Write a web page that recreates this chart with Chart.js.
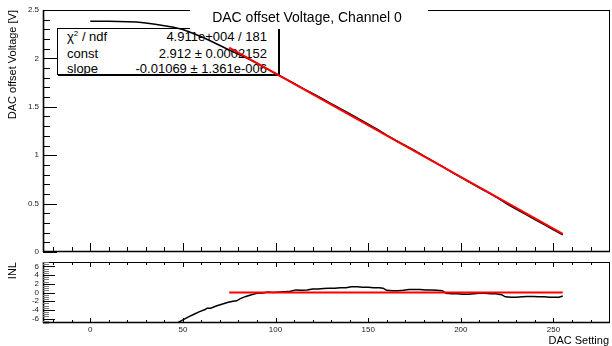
<!DOCTYPE html>
<html>
<head>
<meta charset="utf-8">
<script src="https://cdn.jsdelivr.net/npm/chart.js@4.4.1/dist/chart.umd.min.js"></script>
<style>
  html, body { margin: 0; padding: 0; background: #fff; }
  #page { position: relative; width: 612px; height: 346px; overflow: hidden;
          font-family: "Liberation Sans", Arial, Helvetica, sans-serif; color: #000; }
  canvas { position: absolute; left: 0; z-index: 1; }
  #cVolt { top: 0; }
  #cInl { top: 253px; }
  /* fit statistics pave (sits under the canvas so the graph line crosses it) */
  .stats { position: absolute; left: 57px; top: 28px; width: 220px; height: 45px; z-index: 0;
           border: 1px solid #000; box-shadow: 1px 1px 0 #000; background: #fff;
           font-size: 13px; line-height: 15px; }
  .stats .row { display: flex; justify-content: space-between; padding: 0 11px 0 9px; }
  .stats .sq { font-size: 8px; position: relative; top: -5px; }
  .titlebox { position: absolute; left: 190px; top: 0; width: 238px; height: 29px; background: #fff; z-index: 2; }
  .title { position: absolute; left: 0; top: 9px; width: 614px; text-align: center;
           font-size: 14px; line-height: 16px; z-index: 3; }
  .ytitle { position: absolute; left: 6px; width: 12px; font-size: 11px; line-height: 12px;
            writing-mode: vertical-rl; transform: rotate(180deg); white-space: nowrap; z-index: 3; }
  .xtitle { position: absolute; right: 3px; top: 334px; font-size: 11px; line-height: 12px; z-index: 3; }
</style>
</head>
<body>
<div id="page">
  <div class="stats">
    <div class="row"><span>χ<span class="sq">2</span> / ndf</span><span>4.911e+004 / 181</span></div>
    <div class="row"><span>const</span><span>2.912 ± 0.0002152</span></div>
    <div class="row"><span>slope</span><span>-0.01069 ± 1.361e-006</span></div>
  </div>
  <canvas id="cVolt" width="612" height="261"></canvas>
  <canvas id="cInl" width="612" height="93"></canvas>
  <div class="titlebox"></div>
  <div class="title">DAC offset Voltage, Channel 0</div>
  <div class="ytitle" style="top:10px">DAC offset Voltage [V]</div>
  <div class="ytitle" style="top:262px">INL</div>
  <div class="xtitle">DAC Setting</div>
</div>
<script>
(function () {
  'use strict';

  /* ── measured offset voltage vs DAC setting ── */
  var dacSetting = [0, 5, 10, 15, 20, 25, 30, 35, 40, 45, 50, 55, 60, 65, 70, 75, 80, 85, 90, 95,
    100, 105, 110, 115, 120, 125, 130, 135, 140, 145, 150, 155, 160, 165, 170, 175, 180, 185, 190, 195,
    200, 205, 210, 215, 220, 225, 230, 235, 240, 245, 250, 255];
  var offsetVoltage = [2.383, 2.383, 2.383, 2.382, 2.379, 2.375, 2.365, 2.352, 2.338, 2.322, 2.298, 2.262,
    2.224, 2.180, 2.133, 2.087, 2.041, 1.997, 1.949, 1.896, 1.844, 1.793, 1.742, 1.688, 1.638, 1.586,
    1.533, 1.481, 1.429, 1.376, 1.321, 1.267, 1.207, 1.152, 1.101, 1.049, 0.994, 0.939, 0.885, 0.825,
    0.771, 0.716, 0.664, 0.612, 0.556, 0.496, 0.441, 0.389, 0.336, 0.282, 0.228, 0.177];

  /* ── linear fit (pol1) over the linear region ── */
  var fitConst = 2.912;
  var fitSlope = -0.01069;
  var fitRange = [75, 255];

  /* ── INL: residual of the data w.r.t. the fit ── */
  var inlDac = [45, 47, 50, 53, 56, 59, 62, 63, 65, 68, 71, 74, 77, 79, 81, 84, 87, 90, 93, 96,
    99, 102, 105, 108, 111, 114, 117, 120, 123, 126, 129, 132, 135, 138, 141, 144, 147, 150, 153, 156,
    158, 160, 163, 166, 169, 172, 175, 178, 181, 184, 187, 190, 192, 195, 198, 201, 204, 207, 210, 213,
    216, 219, 222, 224, 227, 230, 233, 236, 239, 242, 245, 248, 251, 253, 255];
  var inlValue = [-7.6, -7.0, -6.3, -5.6, -5.0, -4.4, -3.9, -3.6, -3.6, -3.1, -2.7, -2.3, -2.0, -1.9,
    -1.4, -0.9, -0.5, -0.2, -0.1, 0.1, 0.0, 0.1, 0.2, 0.3, 0.6, 0.5, 0.6, 0.8, 0.8, 0.9,
    1.0, 1.0, 1.1, 1.1, 1.3, 1.3, 1.2, 1.2, 1.1, 1.1, 1.0, 0.5, 0.4, 0.4, 0.5, 0.7, 0.7, 0.7,
    0.6, 0.6, 0.5, 0.4, -0.2, -0.3, -0.3, -0.4, -0.4, -0.3, -0.2, -0.2, -0.3, -0.3, -0.5, -1.0,
    -1.1, -1.1, -1.0, -0.9, -0.9, -1.0, -1.0, -1.1, -1.1, -1.1, -0.8];

  /* ── axes ── */
  var dacRange = [-25.5, 280.5];
  var dacTicks = [0, 50, 100, 150, 200, 250];
  var voltRange = [0, 2.5];
  var voltTicks = [0, 0.5, 1, 1.5, 2, 2.5];
  var inlRange = [-7, 7];
  var inlTicks = [-6, -4, -2, 0, 2, 4, 6];

  Chart.defaults.font.family = '"Liberation Sans", Arial, Helvetica, sans-serif';

  var pts = function (xs, ys) { return xs.map(function (x, i) { return { x: x, y: ys[i] }; }); };
  var fitLine = fitRange.map(function (x) { return { x: x, y: fitConst + fitSlope * x }; });
  var inlZero = fitRange.map(function (x) { return { x: x, y: 0 }; });

  /* ── ROOT-like frame with inward ticks (major + minor) ── */
  function steps(min, max, step) {
    var out = [];
    for (var i = Math.ceil(min / step - 1e-9); i * step <= max + 1e-9; i++) out.push(i * step);
    return out;
  }
  function onGrid(v, step) { var r = v / step; return Math.abs(r - Math.round(r)) < 1e-6; }
  function seg(ctx, x1, y1, x2, y2) { ctx.beginPath(); ctx.moveTo(x1, y1); ctx.lineTo(x2, y2); ctx.stroke(); }

  var rootAxes = {
    id: 'rootAxes',
    afterDraw: function (chart, args, o) {
      var a = chart.chartArea, ctx = chart.ctx, sx = chart.scales.x, sy = chart.scales.y;
      ctx.save();
      ctx.strokeStyle = '#000'; ctx.lineWidth = 1;
      ctx.strokeRect(a.left + .5, a.top + .5, a.right - a.left - 1, a.bottom - a.top - 1);
      ctx.lineWidth = 1.6;
      seg(ctx, a.left + .5, a.top, a.left + .5, a.bottom);
      seg(ctx, a.left, a.bottom - .5, a.right, a.bottom - .5);

      // x ticks
      ctx.lineWidth = 1;
      steps(sx.min, sx.max, o.xMinor).forEach(function (v) {
        var px = Math.round(sx.getPixelForValue(v)) + .5;
        var len = onGrid(v, o.xMajor) ? o.xMajorLen : o.xMinorLen;
        seg(ctx, px, a.bottom, px, a.bottom - len);
        if (o.xTop) seg(ctx, px, a.top, px, a.top + len);
      });
      // y ticks
      steps(sy.min, sy.max, o.yMinor).forEach(function (v) {
        var py = Math.round(sy.getPixelForValue(v)) + .5;
        var major = onGrid(v, o.yMajor);
        ctx.strokeStyle = major ? '#000' : o.yMinorColor;
        seg(ctx, a.left, py, a.left + (major ? o.yMajorLen : o.yMinorLen), py);
      });
      ctx.restore();
    }
  };

  function fixedTicks(list) {
    return function (axis) { axis.ticks = list.map(function (v) { return { value: v }; }); };
  }
  var plain = function (v) { return String(v); };

  function options(yRange, yTicks, showX, padding, axes) {
    return {
      responsive: false, animation: false, events: [],
      layout: { padding: padding },
      plugins: { legend: { display: false }, tooltip: { enabled: false }, title: { display: false }, rootAxes: axes },
      elements: { point: { radius: 0 }, line: { tension: 0 } },
      scales: {
        x: {
          type: 'linear', min: dacRange[0], max: dacRange[1], display: showX,
          afterBuildTicks: fixedTicks(dacTicks),
          afterFit: function (s) { s.height = showX ? 23 : 0; },
          grid: { display: false, drawTicks: false }, border: { display: false },
          ticks: { color: '#222', padding: 2, maxRotation: 0, autoSkip: false, font: { size: 8 }, callback: plain }
        },
        y: {
          type: 'linear', min: yRange[0], max: yRange[1],
          afterBuildTicks: fixedTicks(yTicks),
          afterFit: function (s) { s.width = 43; },
          grid: { display: false, drawTicks: false }, border: { display: false },
          ticks: { color: '#222', padding: 4, autoSkip: false, font: { size: 8 }, callback: plain }
        }
      }
    };
  }

  // upper pad: voltage + fit
  new Chart(document.getElementById('cVolt'), {
    type: 'line',
    data: {
      datasets: [
        { data: fitLine, borderColor: '#ff0000', borderWidth: 2, order: 0 },
        { data: pts(dacSetting, offsetVoltage), borderColor: '#000', borderWidth: 1.5, order: 1 }
      ]
    },
    options: options(voltRange, voltTicks, false, { top: 10, right: 2, bottom: 9, left: 0 },
      { xMajor: 50, xMinor: 10, xMajorLen: 9, xMinorLen: 5, xTop: false,
        yMajor: 0.5, yMinor: 0.1, yMajorLen: 14, yMinorLen: 7, yMinorColor: '#000' }),
    plugins: [rootAxes]
  });

  // lower pad: INL
  new Chart(document.getElementById('cInl'), {
    type: 'line',
    data: {
      datasets: [
        { data: inlZero, borderColor: '#ff0000', borderWidth: 2, order: 0 },
        { data: pts(inlDac, inlValue), borderColor: '#000', borderWidth: 1.5, order: 1 }
      ]
    },
    options: options(inlRange, inlTicks, true, { top: 9, right: 2, bottom: 0, left: 0 },
      { xMajor: 50, xMinor: 10, xMajorLen: 5, xMinorLen: 3, xTop: true,
        yMajor: 2, yMinor: 0.5, yMajorLen: 12, yMinorLen: 6, yMinorColor: '#777' }),
    plugins: [rootAxes]
  });
})();
</script>
</body>
</html>
